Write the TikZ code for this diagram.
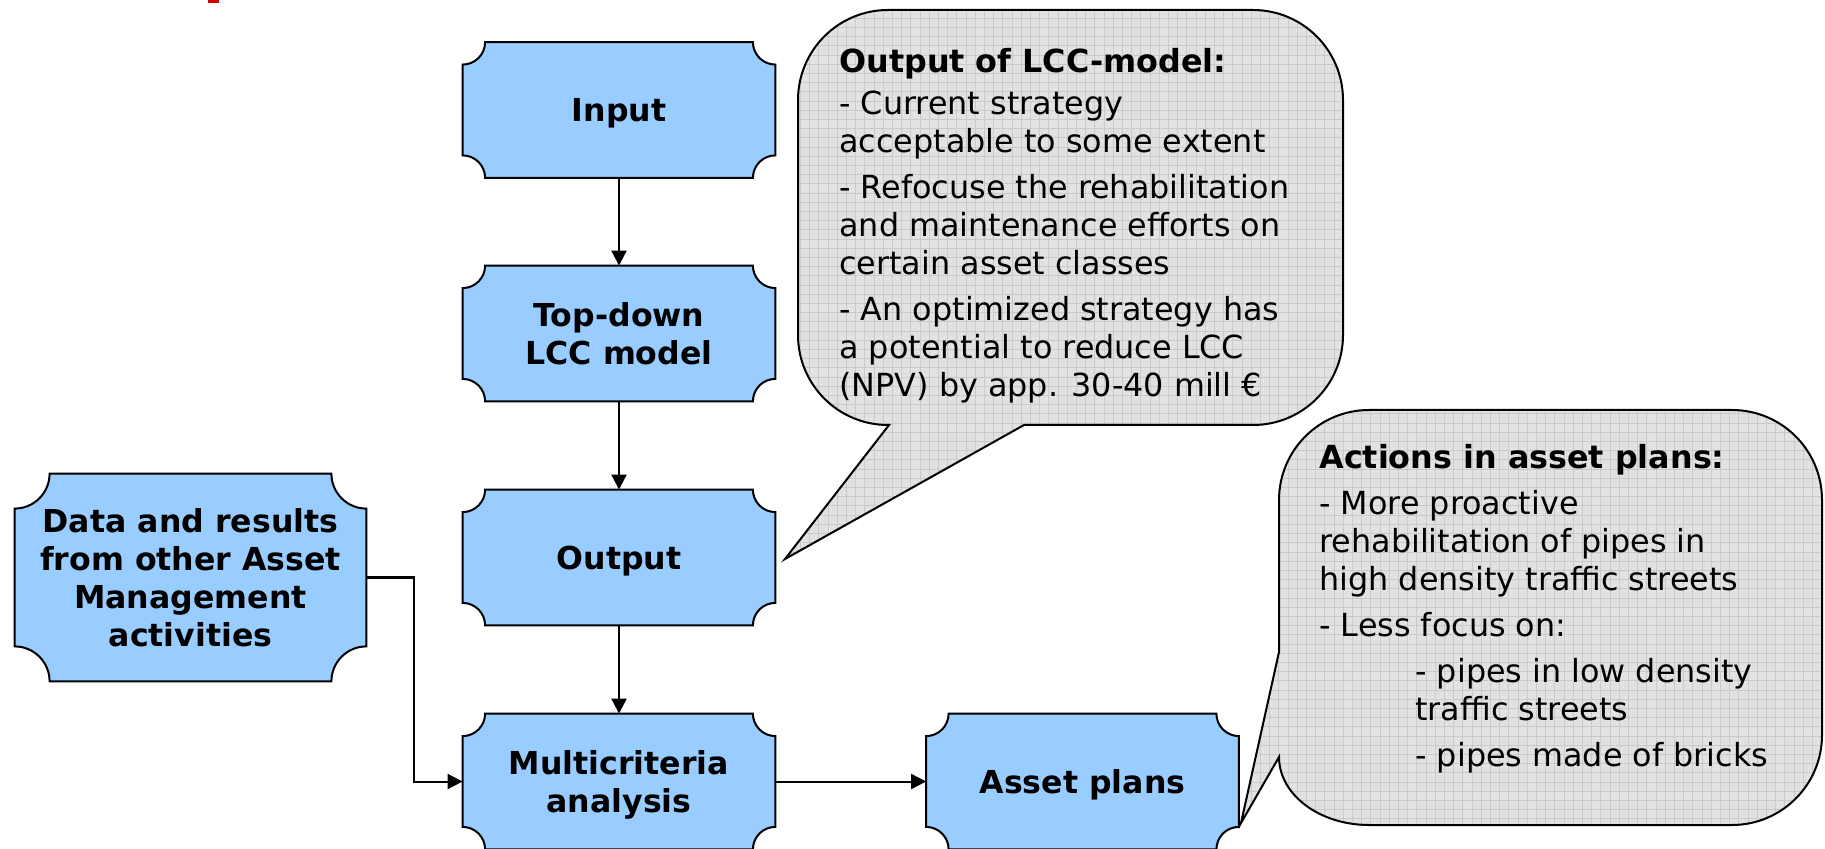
\documentclass[tikz,border=0pt]{standalone}
\usepackage{fontspec}
\setmainfont{DejaVu Sans}
\usetikzlibrary{arrows.meta,backgrounds}
\definecolor{boxblue}{HTML}{99CCFF}
\definecolor{callfill}{HTML}{E2E2E2}
\definecolor{callgrid}{HTML}{CACACA}
\definecolor{markred}{HTML}{D40000}
\newcommand\plaquebox[2]{%
  \draw[plaq] ([xshift=#2]#1.north west) -- ([xshift=-#2]#1.north east)
    arc[start angle=180,end angle=270,radius=#2]
    -- ([yshift=#2]#1.south east)
    arc[start angle=90,end angle=180,radius=#2]
    -- ([xshift=#2]#1.south west)
    arc[start angle=0,end angle=90,radius=#2]
    -- ([yshift=-#2]#1.north west)
    arc[start angle=270,end angle=360,radius=#2] -- cycle;}
\begin{document}
\begin{tikzpicture}[x=0.5pt,y=0.5pt,
  box/.style={minimum width=156pt,minimum height=67.5pt,inner sep=0pt,align=center,
    text depth=0pt,font=\fontsize{15.8}{19}\selectfont\bfseries},
  plaq/.style={fill=boxblue,draw=black,line width=1pt},
  arr/.style={line width=1pt,-{Triangle[length=7.5pt,width=7.5pt]}},
  callout/.style={draw=black,line width=1pt},
  ctext/.style={align=left,inner sep=0pt,anchor=base west,font=\fontsize{15.9}{19}\selectfont}]
\useasboundingbox (0,0) rectangle (1825,-849);
\fill[markred] (208,0) rectangle (219,-3.3);

% callouts
\def\calloutA{(888,-10) -- (1253,-10) arc[start angle=90,end angle=0,radius=90]
  -- (1343,-335) arc[start angle=0,end angle=-90,radius=90]
  -- (1024,-425) -- (785,-559) -- (889,-425) -- (888,-425)
  arc[start angle=270,end angle=180,radius=90]
  -- (798,-100) arc[start angle=180,end angle=90,radius=90] -- cycle}
\def\calloutB{(1369,-410) -- (1732,-410) arc[start angle=90,end angle=0,radius=90]
  -- (1822,-735) arc[start angle=0,end angle=-90,radius=90]
  -- (1369,-825) arc[start angle=270,end angle=180,x radius=90,y radius=68]
  -- (1241,-823) -- (1279,-652)
  -- (1279,-500) arc[start angle=180,end angle=90,radius=90] -- cycle}
\begin{scope}
  \clip \calloutA;
  \fill[callfill] (770,0) rectangle (1360,-600);
  \draw[callgrid,line width=0.5pt,step=4.6pt] (770,0) grid (1360,-600);
\end{scope}
\draw[callout] \calloutA;
\begin{scope}
  \clip \calloutB;
  \fill[callfill] (1230,-400) rectangle (1825,-849);
  \draw[callgrid,line width=0.5pt,step=4.6pt] (1230,-400) grid (1825,-849);
\end{scope}
\draw[callout] \calloutB;

\node[ctext] (t1) at (839,-397) {\textbf{Output of LCC-model:}\\[2pt]- Current strategy\\acceptable to some extent\\[4pt]- Refocuse the rehabilitation\\and maintenance efforts on\\certain asset classes\\[4pt]- An optimized strategy has\\a potential to reduce LCC\\(NPV) by app. 30-40 mill €};
\node[ctext] (t2) at (1319,-766.5) {\textbf{Actions in asset plans:}\\[4pt]- More proactive\\rehabilitation of pipes in\\high density traffic streets\\[4pt]- Less focus on:\\[4pt]\hspace*{48pt}- pipes in low density\\\hspace*{48pt}traffic streets\\[4pt]\hspace*{48pt}- pipes made of bricks};

% boxes
\node[box] (input) at (619,-110) {Input};
\node[box] (topdown) at (619,-333.5) {Top-down\\LCC model};
\node[box] (output) at (619,-557.5) {Output};
\node[box] (multi) at (619,-781.5) {Multicriteria\\analysis};
\node[box] (asset) at (1082.5,-781.5) {Asset plans};
\node[box,minimum width=175.5pt,minimum height=103.5pt] (data) at (190.5,-577.5) {Data and results\\from other Asset\\Management\\activities};
\begin{scope}[on background layer]
  \plaquebox{input}{11.25pt}
  \plaquebox{topdown}{11.25pt}
  \plaquebox{output}{11.25pt}
  \plaquebox{multi}{11.25pt}
  \plaquebox{asset}{11.25pt}
  \plaquebox{data}{17.5pt}
\end{scope}

% connectors
\draw[arr] (input) -- (topdown);
\draw[arr] (topdown) -- (output);
\draw[arr] (output) -- (multi);
\draw[arr] (multi) -- (asset);
\draw[arr] (data.east) -- ++(48,0) |- (multi.west);
\end{tikzpicture}
\end{document}
